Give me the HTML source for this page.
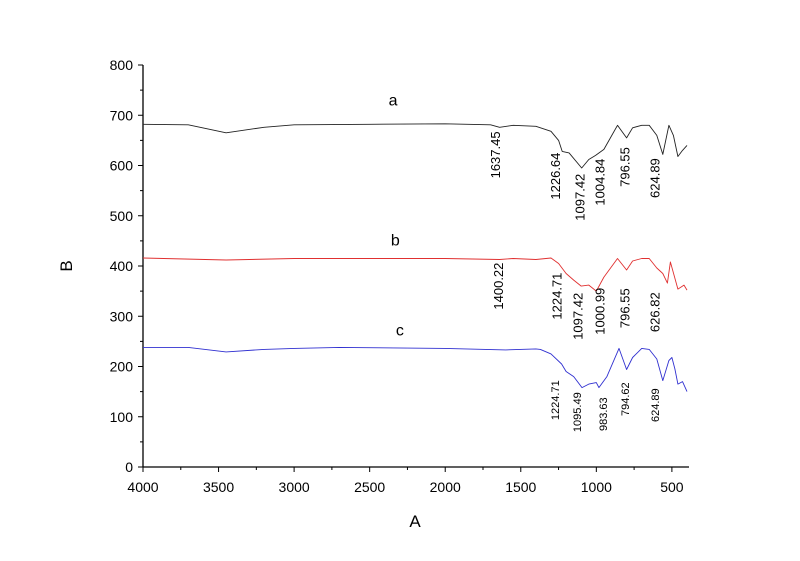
<!DOCTYPE html>
<html><head><meta charset="utf-8">
<style>
body{margin:0;background:#fff;}
svg{display:block;font-family:"Liberation Sans",Arial,sans-serif;}
</style></head>
<body>
<svg id="chart" width="800" height="561" viewBox="0 0 800 561" xmlns="http://www.w3.org/2000/svg">
<rect width="800" height="561" fill="#fff"/>
<g id="axes"></g>
<g id="series"></g>
<g id="annots"></g>
</svg>
<script>
const xTicks = [4000,3500,3000,2500,2000,1500,1000,500];
const yTicks = [0,100,200,300,400,500,600,700,800];
const waveA = [4000,3700,3450,3200,3000,2500,2000,1700,1640,1550,1400,1300,1250,1226,1180,1097,1050,1005,950,860,800,760,700,650,600,560,520,490,460,430,400];
const seriesA = [682,681,665,676,681,682,683,681,676,680,678,668,650,628,625,595,612,620,632,680,655,675,680,680,660,622,680,660,618,630,640];
const waveB = [4000,3450,3000,2000,1640,1550,1400,1300,1250,1200,1150,1100,1050,1000,950,860,800,760,700,650,600,560,530,510,460,420,400];
const seriesB = [416,412,415,415,413,415,413,416,405,385,372,360,362,350,378,415,392,410,415,415,396,385,366,408,354,362,352];
const waveC = [4000,3700,3450,3200,3000,2700,2000,1600,1400,1370,1300,1230,1200,1150,1095,1050,1000,983,930,850,800,760,700,650,600,560,520,500,480,460,430,400];
const seriesC = [238,238,229,234,236,238,236,233,235,234,225,205,190,180,158,165,168,158,180,236,194,218,236,234,215,172,212,218,195,165,170,150];
const letters = ["a","b","c"];
const letterWave = [2345,2330,2300];
const letterVal = [719,441,262];
const labelsA = ["1637.45","1226.64","1097.42","1004.84","796.55","624.89"];
const labelsB = ["1400.22","1224.71","1097.42","1000.99","796.55","626.82"];
const labelsC = ["1224.71","1095.49","983.63","794.62","624.89"];
const posA = [1670,1273,1108,976,810,612];
const posB = [1650,1260,1121,976,810,612];
const posC = [1273,1128,956,810,612];
const midA = [621,579,537,567,597,575];
const midB = [360,340,300,310,316,308];
const midC = [133,109,105,135,123];

const X0=143, X1=687, Y0=467, Y1=65;
const xs = v => X0 + (4000 - v) * (X1 - X0) / 3600;
const ys = v => Y0 - v * (Y0 - Y1) / 800;
const NS="http://www.w3.org/2000/svg";
function mk(tag, parent, attrs){const e=document.createElementNS(NS,tag);for(const k in attrs)e.setAttribute(k,attrs[k]);parent.appendChild(e);return e;}
const axes=document.getElementById('axes');
let e;
e=mk('line',axes,{x1:X0,y1:Y0,x2:689,y2:Y0,stroke:'#000','stroke-width':1.3});


e=mk('line',axes,{x1:X0,y1:Y0,x2:X0,y2:Y1,stroke:'#000','stroke-width':1.3});


xTicks.forEach(t=>{
  const x=xs(t);
  e=mk('line',axes,{x1:x,y1:Y0,x2:x,y2:Y0+5,stroke:'#000','stroke-width':1});
  
  
  const m=xs(t-250);
  if(m<689){e=mk('line',axes,{x1:m,y1:Y0,x2:m,y2:Y0+3,stroke:'#000','stroke-width':1});
  
  }
  e=mk('text',axes,{x:x,y:Y0+25,'text-anchor':'middle','font-size':14});
  e.textContent=t;
  
  
});
yTicks.forEach(t=>{
  const y=ys(t);
  e=mk('line',axes,{x1:X0-5,y1:y,x2:X0,y2:y,stroke:'#000','stroke-width':1});
  
  
  if(t<800){e=mk('line',axes,{x1:X0-3,y1:ys(t+50),x2:X0,y2:ys(t+50),stroke:'#000','stroke-width':1});
  
  }
  e=mk('text',axes,{x:X0-10,y:y+5,'text-anchor':'end','font-size':14});
  e.textContent=t;
  
  
});
e=mk('text',axes,{x:415,y:527,'text-anchor':'middle','font-size':17});
e.textContent='A';


e=mk('text',axes,{x:0,y:0,'text-anchor':'middle','font-size':17,transform:'translate(72,266) rotate(-90)'});
e.textContent='B';



const ser=document.getElementById('series');
[[waveA,seriesA,'#222','series-a'],[waveB,seriesB,'#e03030','series-b'],[waveC,seriesC,'#3030d0','series-c']].forEach(s=>{
  const d=s[0].map((w,i)=>(i?'L':'M')+xs(w).toFixed(1)+','+ys(s[1][i]).toFixed(1)).join('');
  e=mk('path',ser,{d:d,fill:'none',stroke:s[2],'stroke-width':0.9,'stroke-linejoin':'round'});
  
  
});
const an=document.getElementById('annots');
letters.forEach((l,i)=>{
  e=mk('text',an,{x:xs(letterWave[i]),y:ys(letterVal[i]),'text-anchor':'middle','font-size':16});
  e.textContent=l;
  
  
});
[[labelsA,posA,midA,13,'a'],[labelsB,posB,midB,13,'b'],[labelsC,posC,midC,11,'c']].forEach(g=>{
  g[0].forEach((t,i)=>{
    const x=xs(g[1][i])+g[3]*0.36, y=ys(g[2][i]);
    e=mk('text',an,{x:0,y:0,'text-anchor':'middle','font-size':g[3],transform:`translate(${x.toFixed(1)},${y.toFixed(1)}) rotate(-90)`});
    e.textContent=t;
    
    
  });
});
</script>
</body></html>
